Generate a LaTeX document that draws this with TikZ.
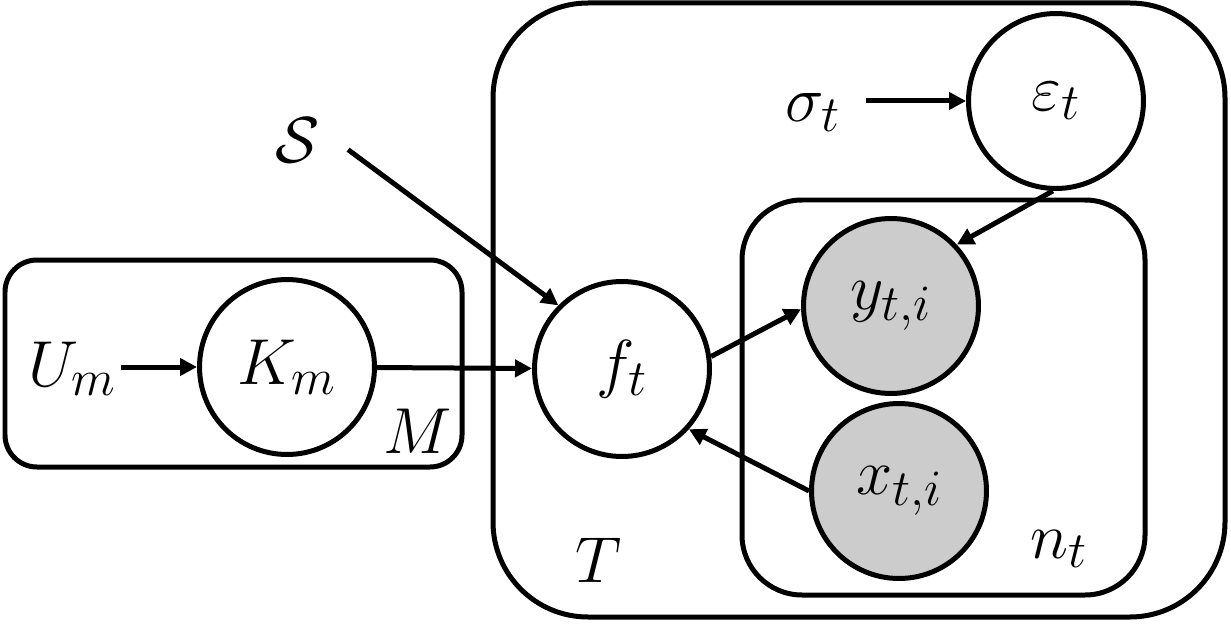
\RequirePackage{fix-cm}
\documentclass[tikz,border=0pt]{standalone}
\usetikzlibrary{arrows.meta}
\DeclareMathSizes{37}{37}{29}{22}
\begin{document}
\begin{tikzpicture}[x=0.02cm,y=-0.02cm]
\tikzset{
 plate/.style={line width=0.1cm, rounded corners=#1},
 latent/.style={circle, draw, line width=0.1cm, minimum size=3.5cm, inner sep=0pt, fill=white, font=\fontsize{37}{44}\selectfont},
 observed/.style={latent, fill=gray!40},
 lab/.style={inner sep=0pt, anchor=base west, font=\fontsize{37}{44}\selectfont},
 arr/.style={line width=0.1cm, -{Triangle[length=0.34cm,width=0.34cm]}},
}
\useasboundingbox (0,0) rectangle (1231,625);
% plates
\draw[plate=0.64cm] (5,260) rectangle (462,467);
\draw[plate=1.9cm] (493,3) rectangle (1225,617);
\draw[plate=1.2cm] (742,200) rectangle (1145,595);
% random variables
\node[latent] (K) at (287,367) {$K_m$};
\node[latent] (f) at (622,369) {$f_t$};
\node[latent] (eps) at (1056,101) {$\varepsilon_t$};
\node[observed] (y) at (891,306) {$y_{t,i}$};
\node[observed] (x) at (899,491) {$x_{t,i}$};
% labels
\node[lab] (U) at (28,386) {$U_m$};
\node[lab] (M) at (383,453) {$M$};
\node[lab] (S) at (275,163) {$\mathcal{S}$};
\node[lab] (sigma) at (785,122) {$\sigma_t$};
\node[lab] (T) at (575,582) {$T$};
\node[lab] (n) at (1030,558) {$n_t$};
% arrows
\draw[arr, shorten <=0.1cm] (U.east |- K.west) -- (K.west);
\draw[arr] (K) -- (f);
\draw[arr, shorten <=0.7cm] (S.28) -- (f.135);
\draw[arr, shorten <=0.5cm] (sigma.east |- eps.west) -- (eps.west);
\draw[arr] (eps.268) -- (y.43);
\draw[arr] (f.8) -- (y.182);
\draw[arr] (x.west) -- (f.-42);
\end{tikzpicture}
\end{document}
